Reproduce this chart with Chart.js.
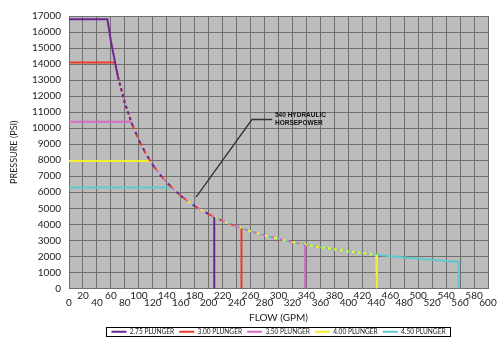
<!DOCTYPE html>
<html>
<head>
<meta charset="utf-8">
<script src="https://cdn.jsdelivr.net/npm/chart.js@4/dist/chart.umd.min.js"></script>
<style>
  html,body{margin:0;padding:0;background:#fff;}
  #wrap{width:502px;height:344px;}
</style>
</head>
<body>
<div id="wrap"><canvas id="chart" width="502" height="344"></canvas></div>
<script>
// plunger sizes and their limits
const plungers = ["2.75 PLUNGER","3.00 PLUNGER","3.50 PLUNGER","4.00 PLUNGER","4.50 PLUNGER"];
const colors = ["#6e2590","#ec3a2b","#d46cc6","#f2ee2a","#5ec8cf"];
const maxPressure = [16800, 14100, 10400, 7950, 6300];   // PSI, flat part
const kneeFlow = [55, 66, 89, 116, 147];                  // GPM where the flat part meets the HP curve
const maxFlow = [208, 247, 338, 441, 558];               // GPM, vertical drop
const endPressure = [4450, 3750, 2740, 2100, 1650];      // PSI at max flow

// 540 hydraulic horsepower curve
const hpFlow = [60, 70, 80, 90, 100, 110, 120, 130, 140, 160, 180, 200, 220, 240, 260, 280, 300, 320, 360, 400, 440, 480, 520];
const hpPressure = [15430, 13220, 11570, 10280, 9260, 8410, 7710, 7120, 6610, 5780, 5140, 4630, 4210, 3860, 3560, 3310, 3090, 2890, 2570, 2310, 2100, 1930, 1780];

const yTicks = 17000;
const xTicks = 600;

function seriesPoints(i){
  const pts = [{x:0, y:maxPressure[i]}, {x:kneeFlow[i], y:maxPressure[i]}];
  hpFlow.forEach((q,k)=>{
    if(q > kneeFlow[i] && q < maxFlow[i]) pts.push({x:q, y:hpPressure[k]});
  });
  pts.push({x:maxFlow[i], y:endPressure[i]});
  pts.push({x:maxFlow[i], y:0});
  return pts;
}

// where several plungers share the HP curve, interleave their colours as dashes
const DASH = 3;
function sharing(i, ctx){
  const x0 = ctx.p0.parsed.x, x1 = ctx.p1.parsed.x;
  if(x0 === x1 || ctx.p0.parsed.y === ctx.p1.parsed.y) return null;
  const who = [];
  for(let j=0;j<plungers.length;j++){
    if(kneeFlow[j] <= x0 && maxFlow[j] >= x1) who.push(j);
  }
  if(who.length < 2) return null;
  return {n:who.length, rank:who.indexOf(i)};
}

const datasets = plungers.map((name,i)=>({
  label:name,
  data:seriesPoints(i),
  borderColor:colors[i],
  backgroundColor:colors[i],
  borderWidth:2,
  pointRadius:0,
  tension:0,
  fill:false,
  segment:{
    borderDash(ctx){
      const s = sharing(i, ctx);
      return s ? [DASH, DASH*(s.n-1)] : undefined;
    },
    borderDashOffset(ctx){
      const s = sharing(i, ctx);
      return s ? -DASH*s.rank : undefined;
    }
  }
}));

const plotBg = {
  id:"plotBg",
  beforeDraw(chart){
    const {ctx, chartArea:a} = chart;
    ctx.save();
    ctx.fillStyle = "#bcbcbc";
    ctx.fillRect(a.left, a.top, a.right-a.left, a.bottom-a.top);
    ctx.restore();
  }
};

const extras = {
  id:"extras",
  afterDraw(chart){
    const {ctx} = chart;
    const xs = chart.scales.x, ys = chart.scales.y;
    // leader line to the annotation
    ctx.save();
    ctx.strokeStyle = "#333";
    ctx.lineWidth = 1.3;
    ctx.beginPath();
    ctx.moveTo(xs.getPixelForValue(182), ys.getPixelForValue(5700));
    ctx.lineTo(xs.getPixelForValue(262), ys.getPixelForValue(10540));
    ctx.lineTo(xs.getPixelForValue(291), ys.getPixelForValue(10540));
    ctx.stroke();
    ctx.fillStyle = "#111";
    ctx.font = "bold 6.5px 'Liberation Sans', Arial, sans-serif";
    ctx.textBaseline = "middle";
    const tx = xs.getPixelForValue(295);
    ctx.fillText("540 HYDRAULIC", tx, ys.getPixelForValue(10830));
    ctx.fillText("HORSEPOWER", tx, ys.getPixelForValue(10280));
    // border round the legend
    const boxes = chart.legend.legendHitBoxes;
    if(boxes && boxes.length){
      const l = Math.min(...boxes.map(b=>b.left)) - 5;
      const r = Math.max(...boxes.map(b=>b.left+b.width)) + 5;
      const t = Math.min(...boxes.map(b=>b.top)) - 1;
      const btm = Math.max(...boxes.map(b=>b.top+b.height)) + 1;
      ctx.strokeStyle = "#000";
      ctx.lineWidth = 1;
      ctx.strokeRect(Math.round(l)+0.5, Math.round(t)+0.5, Math.round(r-l), Math.round(btm-t));
    }
    ctx.restore();
  }
};

new Chart(document.getElementById("chart"),{
  type:"line",
  data:{datasets},
  plugins:[plotBg, extras],
  options:{
    responsive:false,
    animation:false,
    events:[],
    layout:{padding:{left:0, right:14, top:16, bottom:-1}},
    plugins:{
      tooltip:{enabled:false},
      legend:{
        position:"bottom",
        fullSize:false,
        labels:{
          usePointStyle:true,
          pointStyle:"line",
          pointStyleWidth:15,
          padding:5,
          color:"#222",
          font:{family:"Lato, 'Open Sans', sans-serif", size:6.6}
        }
      }
    },
    scales:{
      x:{
        type:"linear",
        min:0,
        max:xTicks,
        afterFit(s){ s.height = 35; },
        grid:{color:"#6f6f6f", lineWidth:1, drawTicks:false},
        border:{color:"#6f6f6f"},
        ticks:{
          stepSize:20,
          autoSkip:false,
          maxRotation:0,
          padding:4,
          color:"#222",
          font:{family:"Lato, 'Open Sans', sans-serif", size:10, lineHeight:0.7},
          callback(v){ return (v/20)%2 ? [String(v),""] : ["",String(v)]; }
        },
        title:{
          display:true,
          text:"FLOW (GPM)",
          color:"#222",
          font:{family:"Lato, 'Open Sans', sans-serif", size:10},
          padding:{top:0, bottom:0}
        }
      },
      y:{
        type:"linear",
        min:0,
        max:yTicks,
        afterFit(s){ s.width = 69; },
        grid:{color:"#6f6f6f", lineWidth:1, drawTicks:false},
        border:{color:"#6f6f6f"},
        ticks:{
          stepSize:1000,
          padding:8,
          color:"#222",
          font:{family:"Lato, 'Open Sans', sans-serif", size:10},
          callback(v){ return String(v); }
        },
        title:{
          display:true,
          text:"PRESSURE (PSI)",
          color:"#222",
          font:{family:"Lato, 'Open Sans', sans-serif", size:9},
          padding:{top:9, bottom:0}
        }
      }
    }
  }
});
</script>
</body>
</html>
